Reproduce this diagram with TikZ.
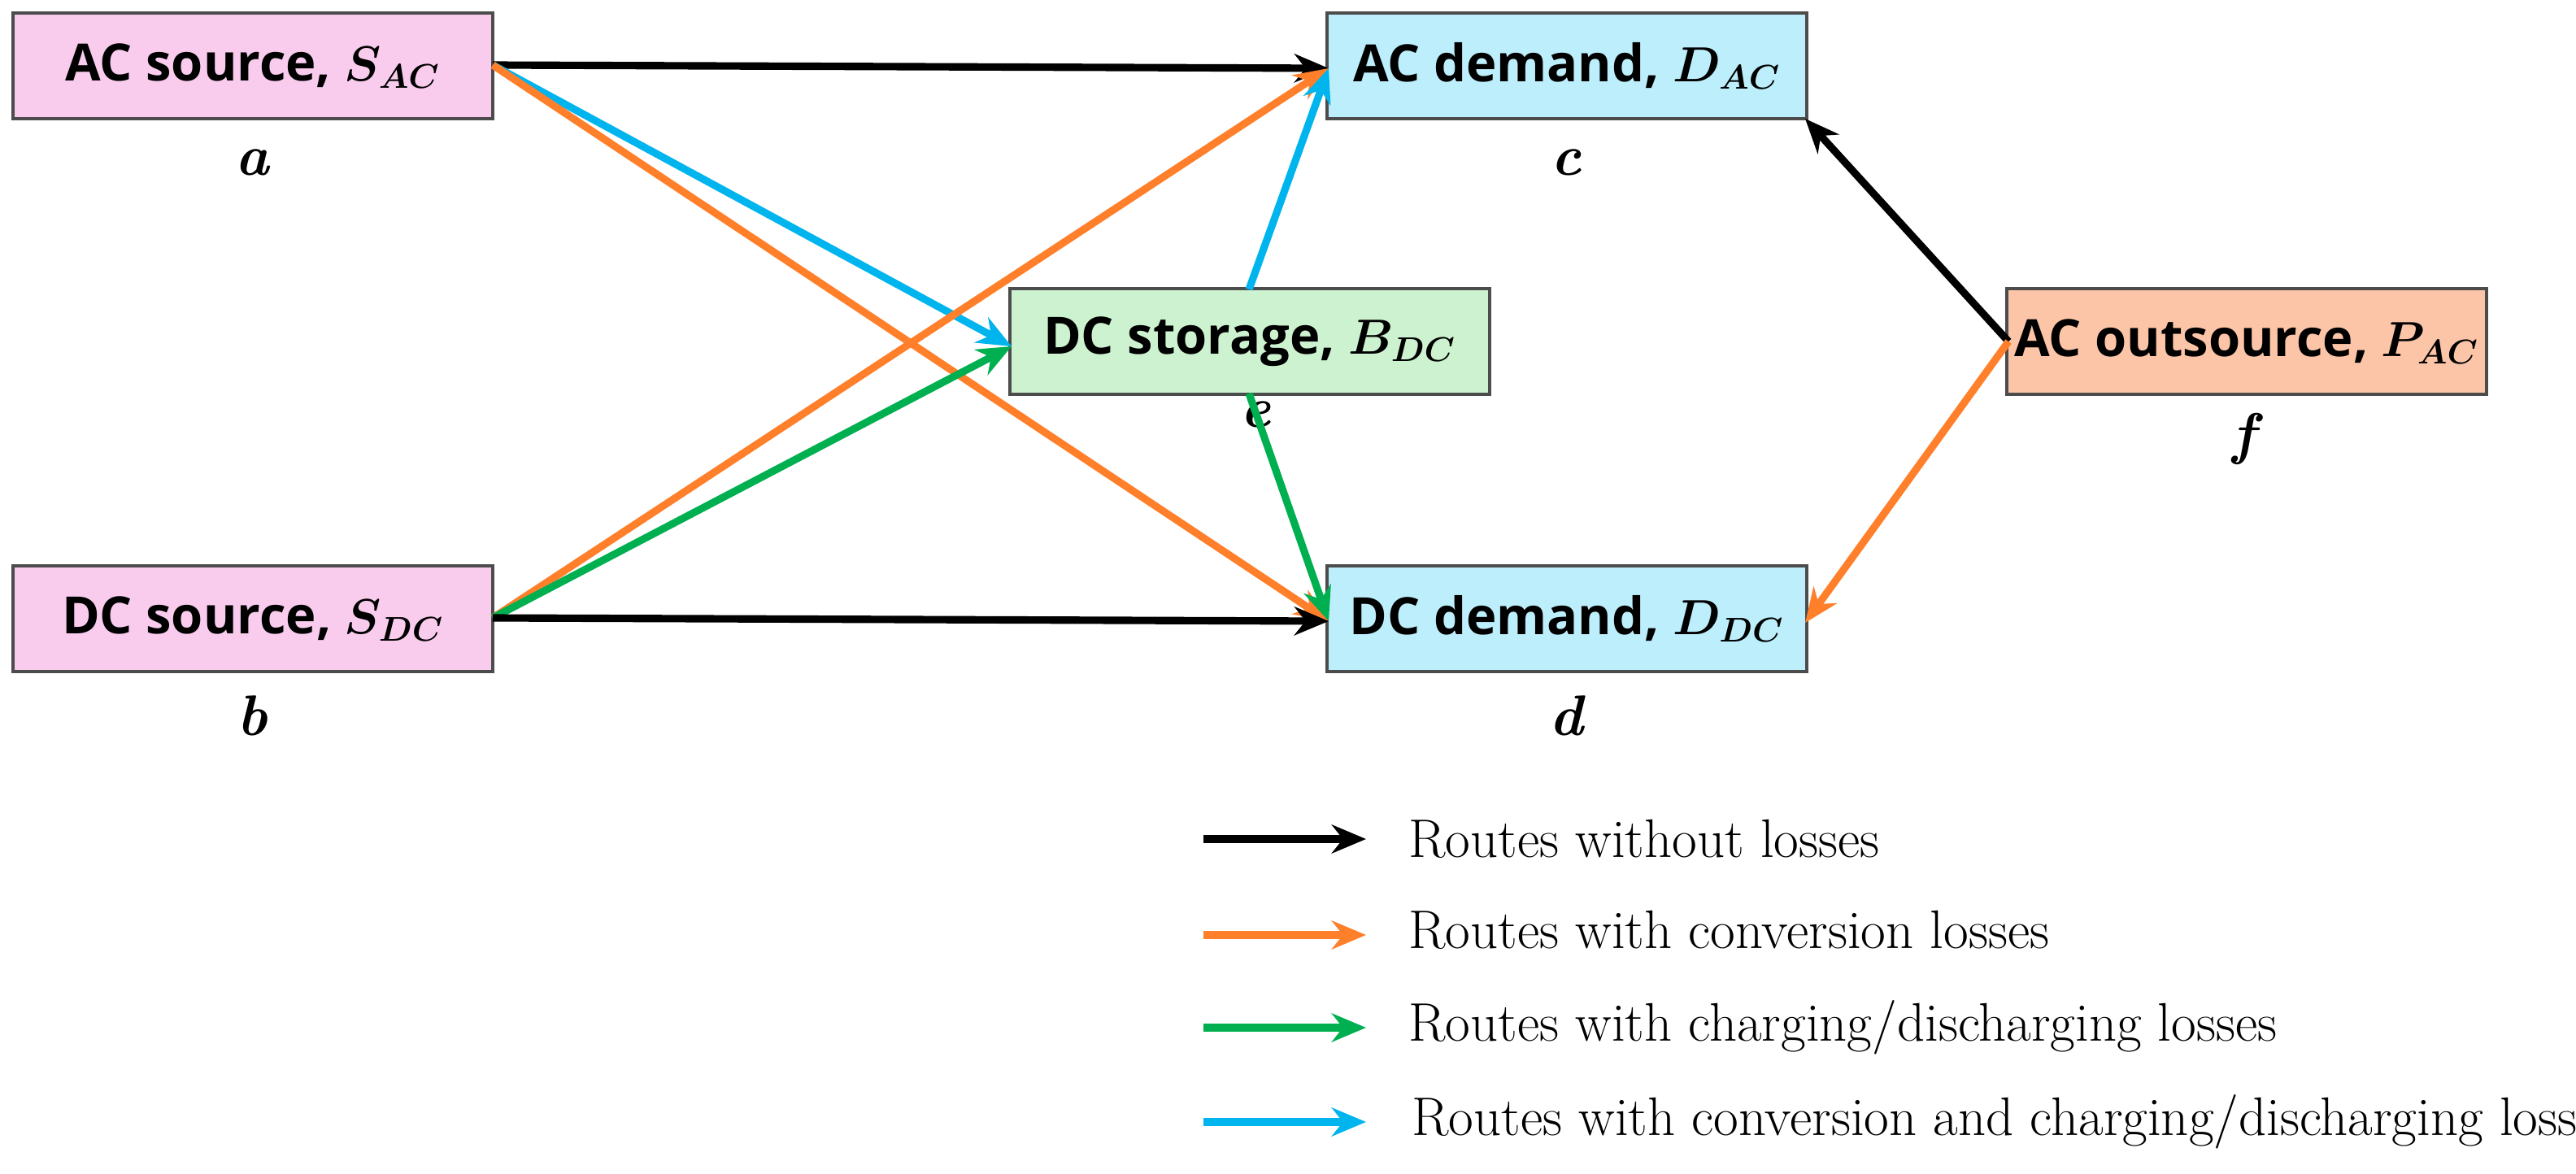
\documentclass[tikz,border=0pt]{standalone}
\usepackage{fontspec}
\newfontfamily\boxfont{Open Sans}
\usepackage{amsmath}
\usetikzlibrary{arrows.meta}
\begin{document}
\begin{tikzpicture}[x=0.02cm,y=-0.02cm,
  box/.style={draw=black!70,line width=1.2pt,minimum width=5.9cm,minimum height=1.3cm,inner sep=0pt,font=\boxfont\bfseries\fontsize{18}{21}\selectfont},
  lab/.style={font=\fontsize{20}{24}\selectfont\bfseries\itshape},
  ar/.style={-{Stealth[length=12pt,width=10pt]},line width=2.6pt},
  leg/.style={font=\fontsize{19}{22}\selectfont,anchor=west}]
\definecolor{pinkf}{HTML}{F9CCEE}
\definecolor{bluef}{HTML}{BDEEFB}
\definecolor{greenf}{HTML}{CDF2D0}
\definecolor{orangef}{HTML}{FCC5A8}
\definecolor{orl}{HTML}{FF7F2A}
\definecolor{bll}{HTML}{00B4EE}
\definecolor{grl}{HTML}{00B050}
\useasboundingbox (0,0) rectangle (1584,721.5);
\node[box,fill=pinkf] (a) at (155.5,40.5) {AC source, $\boldsymbol{S_{AC}}$};
\node[box,fill=pinkf] (b) at (155.5,380.5) {DC source, $\boldsymbol{S_{DC}}$};
\node[box,fill=bluef] (c) at (963.5,40.5) {AC demand, $\boldsymbol{D_{AC}}$};
\node[box,fill=bluef] (d) at (963.5,380.5) {DC demand, $\boldsymbol{D_{DC}}$};
\node[box,fill=greenf] (e) at (768.5,210) {DC storage, $\boldsymbol{B_{DC}}$};
\node[box,fill=orangef] (f) at (1381.5,210) {AC outsource, $\boldsymbol{P_{AC}}$};
\node[lab] (la) at (155,100) {a};
\node[lab] (lb) at (155,440) {b};
\node[lab] (lc) at (963,100) {c};
\node[lab] (ld) at (963,440) {d};
\node[lab] (le) at (772,255) {e};
\node[lab] (lf) at (1380,270) {f};
\coordinate (aR) at (303,40);
\coordinate (bR) at (303,380);
\coordinate (cL) at (817,42);
\coordinate (dL) at (817,382);
\coordinate (eL) at (622,213);
\coordinate (fL) at (1235,210);
\draw[ar,black] (aR) -- (cL);
\draw[ar,bll] (aR) -- (eL);
\draw[ar,orl] (aR) -- (dL);
\draw[ar,orl] (bR) -- (cL);
\draw[ar,grl] (bR) -- (eL);
\draw[ar,black] (bR) -- (dL);
\draw[ar,bll] (768,178) -- (cL);
\draw[ar,grl] (768,242) -- (dL);
\draw[ar,black] (fL) -- (1110,73);
\draw[ar,orl] (fL) -- (1110,383);
\coordinate (k1) at (740,516); \coordinate (k1e) at (840,516);
\coordinate (k2) at (740,575); \coordinate (k2e) at (840,575);
\coordinate (k3) at (740,632); \coordinate (k3e) at (840,632);
\coordinate (k4) at (740,690); \coordinate (k4e) at (840,690);
\draw[ar,black] (k1) -- (k1e);
\draw[ar,orl] (k2) -- (k2e);
\draw[ar,grl] (k3) -- (k3e);
\draw[ar,bll] (k4) -- (k4e);
\node[leg] (t1) at (860,516) {Routes without losses};
\node[leg] (t2) at (860,572) {Routes with conversion losses};
\node[leg] (t3) at (860,632) {Routes with charging/discharging losses};
\node[leg] (t4) at (862,690) {Routes with conversion and charging/discharging losses};
\end{tikzpicture}
\end{document}
